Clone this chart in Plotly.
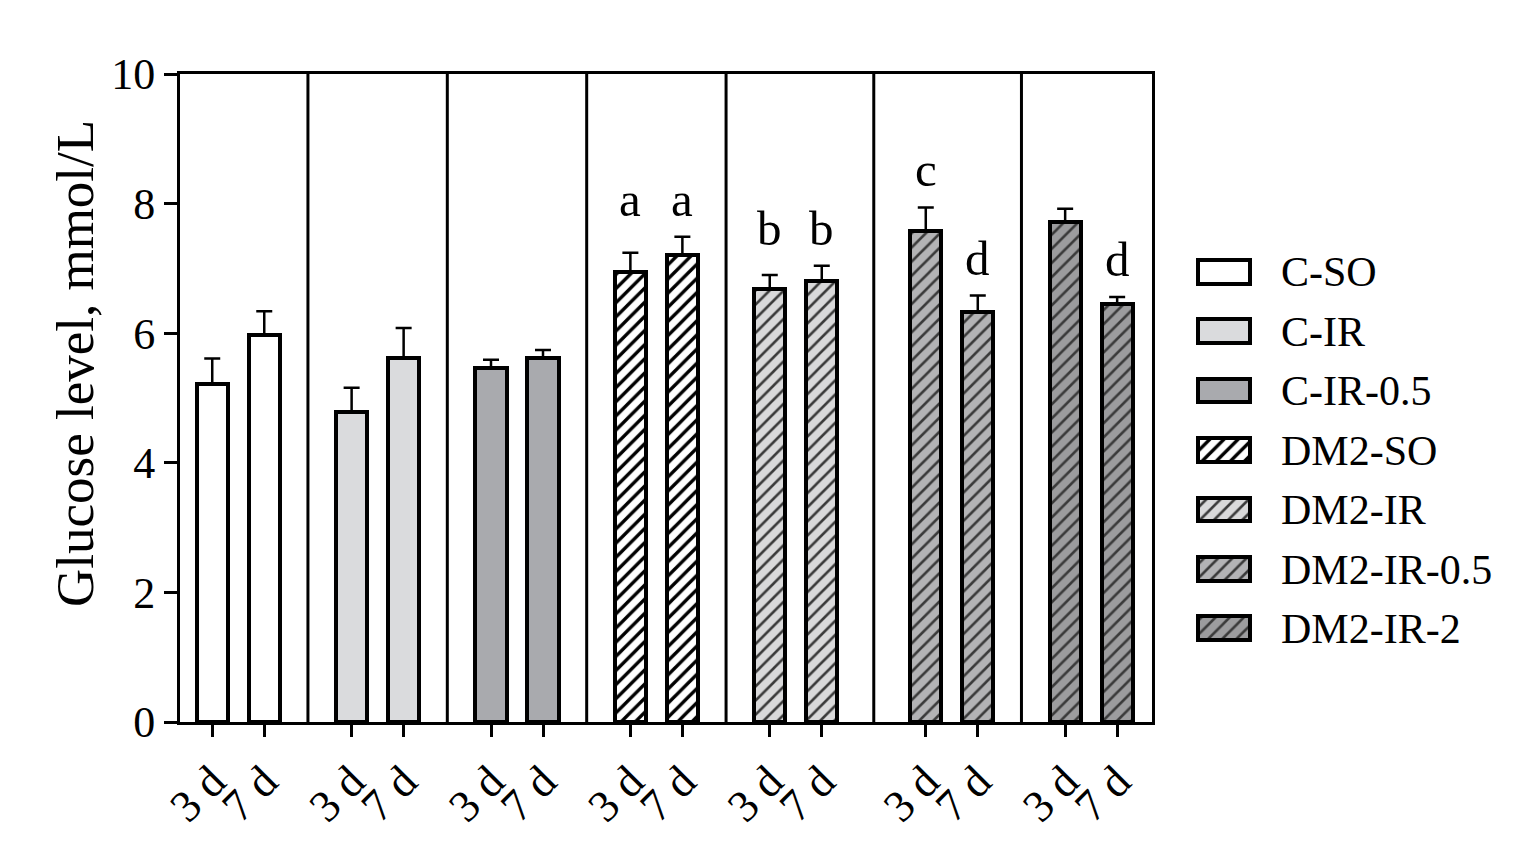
import plotly.graph_objects as go

# ---------------- data ----------------
groups = ["C-SO", "C-IR", "C-IR-0.5", "DM2-SO", "DM2-IR", "DM2-IR-0.5", "DM2-IR-2"]
days = ["3 d", "7 d"]
mean_3d = [5.22, 4.78, 5.47, 6.95, 6.68, 7.57, 7.71]
mean_7d = [5.98, 5.62, 5.61, 7.20, 6.80, 6.33, 6.45]
sem_3d = [0.39, 0.38, 0.12, 0.29, 0.22, 0.37, 0.21]
sem_7d = [0.36, 0.46, 0.13, 0.29, 0.24, 0.25, 0.11]
letters_3d = ["", "", "", "a", "b", "c", ""]
letters_7d = ["", "", "", "a", "b", "d", "d"]
y_ticks = [0, 2, 4, 6, 8, 10]
y_title = "Glucose level, mmol/L"

# ---------------- style ----------------
fills = ["#ffffff", "#dadbdd", "#a9aaae", "#ffffff", "#d9d9da", "#b3b3b5", "#9c9c9e"]
hatch = ["", "", "", "/", "/", "/", "/"]
hatch_fg = ["#000000", "#000000", "#000000", "#000000", "#3a3a3a", "#3a3a3a", "#3a3a3a"]
hatch_sol = [0.3, 0.3, 0.3, 0.34, 0.26, 0.26, 0.26]
FONT = "Liberation Serif"
BODY = 8  # default page margin of the html body
W, H = 1535 - BODY, 867 - BODY
ML, MR, MT, MB = 180 - BODY, 12, 74 - BODY, 145
PW = W - ML - MR
PH = H - MT - MB
MAIN_RIGHT_PX = 972

# spacing of the groups along the x axis (the last two panels are slightly wider)
OFFSET, STEP, BAR_W = 0.62, 2.68, 0.6
EXTRA_GAP = [0, 0, 0, 0, 0, 0.32, 0.32]
XMAX = 18.69

fig = go.Figure()

x3 = [OFFSET + g * STEP + EXTRA_GAP[g] for g in range(len(groups))]
x7 = [v + 1 for v in x3]

for g, name in enumerate(groups):
    pat = dict(shape=hatch[g], fgcolor=hatch_fg[g], bgcolor=fills[g],
               size=10, solidity=hatch_sol[g], fillmode="replace")
    fig.add_trace(go.Bar(
        x=[x3[g], x7[g]], y=[mean_3d[g], mean_7d[g]], width=BAR_W,
        marker=dict(color=fills[g], line=dict(color="black", width=4), pattern=pat),
        error_y=dict(type="data", symmetric=False, array=[sem_3d[g], sem_7d[g]],
                     arrayminus=[0, 0], color="black", thickness=2.5, width=8),
        name=name, showlegend=False, xaxis="x", yaxis="y",
    ))
    # legend swatch in side subplot
    fig.add_trace(go.Bar(
        x=[1], y=[name], orientation="h", width=0.4, base=0,
        marker=dict(color=fills[g], line=dict(color="black", width=4), pattern=pat),
        showlegend=False, xaxis="x2", yaxis="y2", hoverinfo="skip",
    ))

# significance letters
for g in range(len(groups)):
    t3, t7 = letters_3d[g], letters_7d[g]
    top3 = mean_3d[g] + sem_3d[g]
    top7 = mean_7d[g] + sem_7d[g]
    if t3 and t3 == t7:
        top3 = top7 = max(top3, top7)
    for txt, xx, yy in ((t3, x3[g], top3), (t7, x7[g], top7)):
        if txt:
            fig.add_annotation(x=xx, y=yy, text=txt, showarrow=False, xref="x", yref="y",
                               yanchor="bottom", yshift=8,
                               font=dict(family=FONT, size=49, color="black"))

# y-axis title (placed like the original, slightly above the axis centre)
fig.add_annotation(x=(75 - 180) / PW, y=(722 - 364) / PH, xref="paper", yref="paper",
                   text=y_title, textangle=-90, showarrow=False,
                   xanchor="center", yanchor="middle",
                   font=dict(family=FONT, size=53, color="black"))

# group separators
for g in range(len(groups) - 1):
    xs = (x7[g] + x3[g + 1]) / 2
    fig.add_shape(type="line", xref="x", yref="paper", x0=xs, x1=xs, y0=0, y1=1,
                  line=dict(color="black", width=3))

tickvals, ticktext = [], []
for g in range(len(groups)):
    tickvals += [x3[g], x7[g]]
    ticktext += days

main_dom = MAIN_RIGHT_PX / PW
leg_x0 = (1195 - 180) / PW
leg_x1 = (1253 - 180) / PW
leg_y0 = (722 - 658) / PH
leg_y1 = (722 - 242) / PH

fig.update_layout(
    width=W, height=H,
    margin=dict(l=ML, r=MR, t=MT, b=MB),
    paper_bgcolor="white", plot_bgcolor="white",
    bargap=0, barmode="overlay",
    font=dict(family=FONT, color="black"),
    xaxis=dict(domain=[0, main_dom], range=[0, XMAX], tickvals=tickvals, ticktext=ticktext,
               tickangle=-45, tickfont=dict(size=45, family=FONT), ticks="outside",
               ticklen=12, tickwidth=3, tickcolor="black", showline=True, linewidth=3,
               linecolor="black", mirror=True, showgrid=False, zeroline=False),
    yaxis=dict(range=[0, 10], tickvals=y_ticks, tickfont=dict(size=44, family=FONT),
               ticks="outside", ticklen=13, tickwidth=3, tickcolor="black",
               showline=True, linewidth=3, linecolor="black", mirror=True,
               showgrid=False, zeroline=False),
    xaxis2=dict(domain=[leg_x0, leg_x1], range=[-0.06, 1.06], anchor="y2",
                visible=False, fixedrange=True),
    yaxis2=dict(domain=[leg_y0, leg_y1], anchor="x2", side="right",
                categoryorder="array", categoryarray=groups, autorange="reversed",
                showline=False, showgrid=False, zeroline=False, ticks="",
                ticklabelstandoff=27, tickfont=dict(size=42, family=FONT),
                fixedrange=True),
)

fig.write_html("out.html")
